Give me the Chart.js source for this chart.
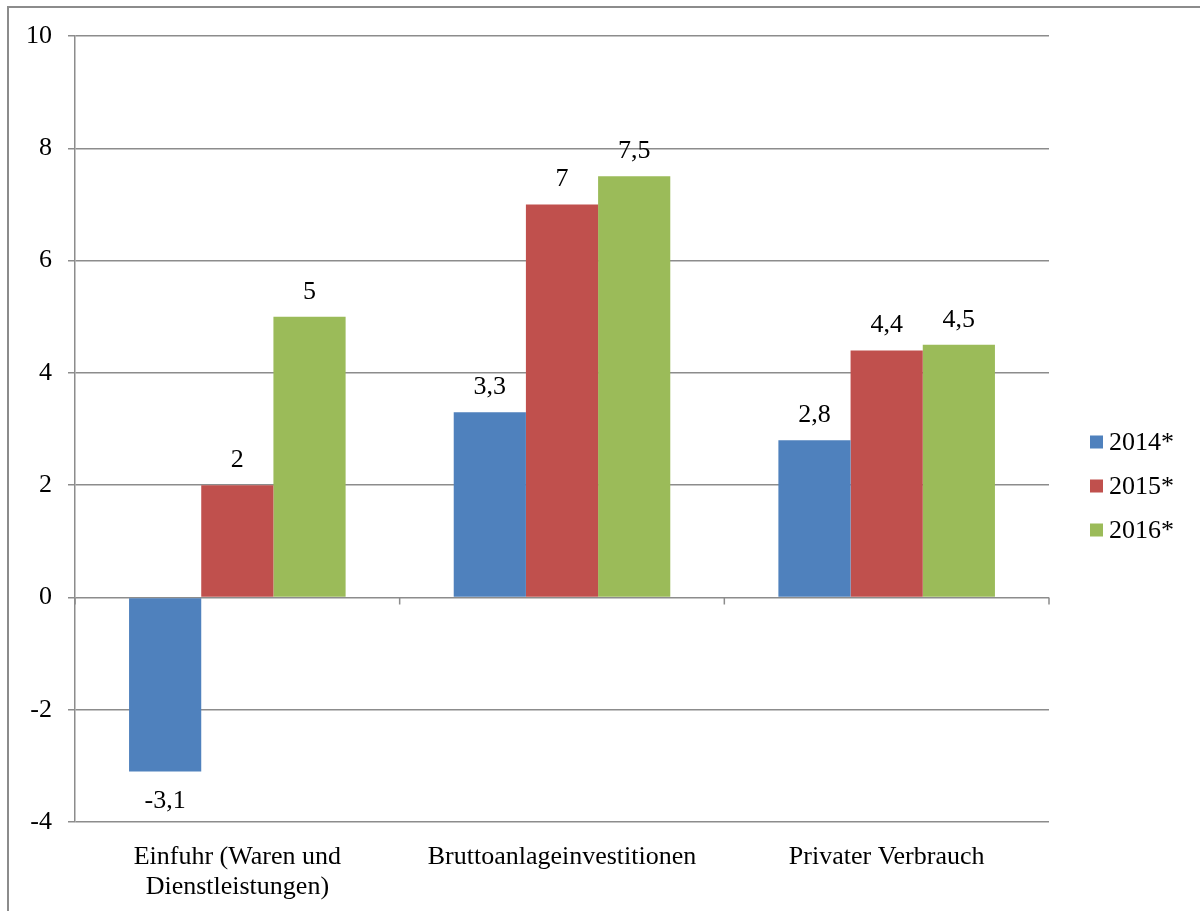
<!DOCTYPE html>
<html>
<head>
<meta charset="utf-8">
<script src="https://cdn.jsdelivr.net/npm/chart.js@4.4.1/dist/chart.umd.min.js"></script>
<style>
  html, body { margin: 0; padding: 0; background: #ffffff; }
  #wrap { width: 1200px; height: 911px; position: relative; }
</style>
</head>
<body>
<div id="wrap"><canvas id="c" width="1200" height="911"></canvas></div>
<script>
// Categories and yearly growth values (percent)
const categories = [["Einfuhr (Waren und", "Dienstleistungen)"], "Bruttoanlageinvestitionen", "Privater Verbrauch"];
const seriesNames = ["2014*", "2015*", "2016*"];
const values2014 = [-3.1, 3.3, 2.8];
const values2015 = [2, 7, 4.4];
const values2016 = [5, 7.5, 4.5];
const seriesColors = ["#4F81BD", "#C0504D", "#9BBB59"];
const yTicks = [-4, -2, 0, 2, 4, 6, 8, 10];

const FONT = "'Liberation Serif', 'Times New Roman', serif";
const FONT_SIZE = 26;
const GRID = "#8c8c8c";

// Draws the frame, zero-line tick marks, value labels and the legend
const decorations = {
  id: "decorations",
  afterDatasetsDraw(chart) {
    const ctx = chart.ctx;
    const x = chart.scales.x;
    const y = chart.scales.y;
    ctx.save();

    // outer frame
    ctx.strokeStyle = GRID;
    ctx.lineWidth = 2;
    ctx.strokeRect(8, 7, 1300, 1000);

    // tick marks on the zero line at category boundaries
    const y0 = Math.round(y.getPixelForValue(0)) + 0.5;
    ctx.lineWidth = 1.5;
    ctx.beginPath();
    const n = chart.data.labels.length;
    for (let i = 0; i <= n; i++) {
      const px = x.getPixelForValue(i - 0.5);
      ctx.moveTo(px, y0);
      ctx.lineTo(px, y0 + 7);
    }
    ctx.stroke();

    // value labels
    ctx.fillStyle = "#000";
    ctx.font = FONT_SIZE + "px " + FONT;
    ctx.textAlign = "center";
    ctx.textBaseline = "middle";
    chart.data.datasets.forEach((ds, di) => {
      const meta = chart.getDatasetMeta(di);
      meta.data.forEach((bar, i) => {
        const v = ds.data[i];
        const txt = String(v).replace(".", ",");
        const ty = v >= 0 ? bar.y - 25 : bar.y + 30;
        ctx.fillText(txt, bar.x, ty);
      });
    });

    // legend
    ctx.textAlign = "left";
    chart.data.datasets.forEach((ds, di) => {
      const cy = 442 + di * 44;
      ctx.fillStyle = ds.backgroundColor;
      ctx.fillRect(1090, cy - 6.5, 13, 13);
      ctx.fillStyle = "#000";
      ctx.fillText(ds.label, 1109, cy + 1);
    });
    ctx.restore();
  }
};

new Chart(document.getElementById("c"), {
  type: "bar",
  data: {
    labels: categories,
    datasets: [
      { label: seriesNames[0], data: values2014, backgroundColor: seriesColors[0] },
      { label: seriesNames[1], data: values2015, backgroundColor: seriesColors[1] },
      { label: seriesNames[2], data: values2016, backgroundColor: seriesColors[2] }
    ]
  },
  options: {
    responsive: false,
    animation: false,
    devicePixelRatio: 1,
    layout: { padding: { left: 0, top: 36, right: 151, bottom: 0 } },
    datasets: { bar: { barPercentage: 1.0, categoryPercentage: 0.667 } },
    plugins: { legend: { display: false }, tooltip: { enabled: false } },
    scales: {
      x: {
        grid: { display: false, drawTicks: false },
        border: { display: false },
        ticks: {
          color: "#000",
          font: { family: FONT, size: FONT_SIZE, lineHeight: 1.15 },
          padding: 20,
          maxRotation: 0,
          autoSkip: false
        },
        afterFit(scale) { scale.height = 89; }
      },
      y: {
        min: -4,
        max: 10,
        afterBuildTicks(scale) { scale.ticks = yTicks.map(v => ({ value: v })); },
        grid: { color: GRID, lineWidth: 1.5, tickLength: 7, drawTicks: true },
        border: { display: true, color: GRID, width: 1.5 },
        ticks: {
          color: "#000",
          font: { family: FONT, size: FONT_SIZE },
          padding: 16
        },
        afterFit(scale) { scale.width = 75; }
      }
    }
  },
  plugins: [decorations]
});
</script>
</body>
</html>
